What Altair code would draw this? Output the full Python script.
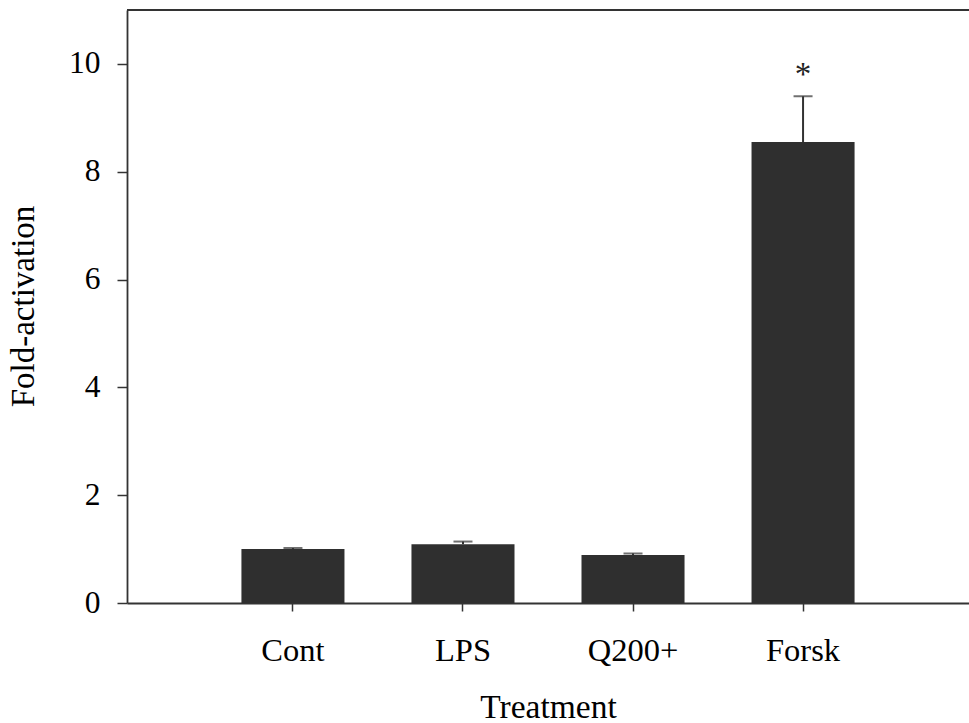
import altair as alt
import pandas as pd

treatments = ["Cont", "LPS", "Q200+", "Forsk"]
fold_values = [1.00, 1.09, 0.89, 8.55]
error_tops = [1.02, 1.14, 0.92, 9.40]
annotations = ["", "", "", "*"]
y_ticks = [0, 2, 4, 6, 8, 10]

df = pd.DataFrame({
    "Treatment": treatments,
    "value": fold_values,
    "err": error_tops,
    "note": annotations,
})

FONT = "Liberation Serif"
INK = "#333333"
W, H = 842, 593

x_enc = alt.X(
    "Treatment:N",
    sort=treatments,
    scale=alt.Scale(paddingInner=0.394, paddingOuter=0.673),
    axis=alt.Axis(
        title="Treatment",
        labelAngle=0,
        tickSize=8,
        tickColor=INK,
        tickWidth=1.5,
        domainColor=INK,
        domainWidth=1.8,
        labelFont=FONT,
        labelFontSize=32.5,
        labelColor="black",
        labelPadding=23,
        titleFont=FONT,
        titleFontSize=33.5,
        titleFontWeight="normal",
        titleColor="black",
        titleBaseline="alphabetic",
        titleY=114,
        grid=False,
    ),
)

y_scale = alt.Scale(domain=[0, 11], nice=False)
y_axis = alt.Axis(
    title="Fold-activation",
    values=y_ticks,
    tickSize=10,
    tickColor=INK,
    tickWidth=1.5,
    domainColor=INK,
    domainWidth=1.8,
    labelFont=FONT,
    labelFontSize=31.5,
    labelColor="black",
    labelPadding=17,
    titleFont=FONT,
    titleFontSize=33,
    titleFontWeight="normal",
    titleColor="black",
    titleAngle=270,
    titleBaseline="alphabetic",
    titleAlign="center",
    titleX=-94,
    titleY=296,
    grid=False,
)

base = alt.Chart(df)

bars = base.mark_bar(color="#2f2f2f").encode(
    x=x_enc,
    y=alt.Y("value:Q", scale=y_scale, axis=y_axis),
)

err_rule = base.mark_rule(color=INK, strokeWidth=2).encode(
    x=alt.X("Treatment:N", sort=treatments),
    y="value:Q",
    y2="err:Q",
)

caps = base.mark_tick(color=INK, thickness=2, size=19).encode(
    x=alt.X("Treatment:N", sort=treatments),
    y="err:Q",
)

stars = base.mark_text(
    font=FONT, fontSize=33, color="#222222", baseline="alphabetic", dy=-11
).encode(
    x=alt.X("Treatment:N", sort=treatments),
    y="err:Q",
    text="note:N",
)

top_line = alt.Chart(pd.DataFrame({"edge": ["top"]})).mark_rule(
    color=INK, strokeWidth=1.8
).encode(
    y=alt.value(0),
    x=alt.value(0),
    x2=alt.value(W),
)

chart = alt.layer(bars, err_rule, caps, stars, top_line).properties(
    width=W,
    height=H,
    autosize=alt.AutoSizeParams(type="none"),
    padding={"left": 127, "top": 10, "right": 0, "bottom": 120},
    background="white",
).configure_view(stroke=None)

chart.save("out.html", embed_options={"renderer": "svg", "actions": False})
